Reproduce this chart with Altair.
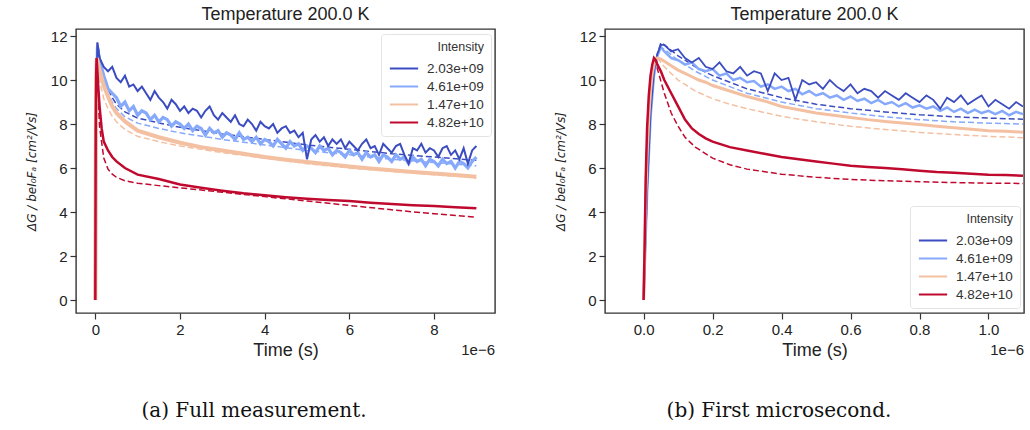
import altair as alt
import pandas as pd

NAMES = ["2.03e+09", "4.61e+09", "1.47e+10", "4.82e+10"]
COLORS = ["#3b4cc0", "#86a9fc", "#f4c0a2", "#c0092e"]
Y_TICKS = [0, 2, 4, 6, 8, 10, 12]

# ---------------- Panel (a): full measurement (time in 1e-6 s) ----------------
L_T_NOISY = [0.0, 0.02, 0.05, 0.1,
             0.2, 0.3, 0.4, 0.5, 0.6, 0.7, 0.8, 0.9, 1.0, 1.1, 1.2, 1.3, 1.4, 1.5, 1.6, 1.7, 1.8, 1.9,
             2.0, 2.1, 2.2, 2.3, 2.4, 2.5, 2.6, 2.7, 2.8, 2.9, 3.0, 3.1, 3.2, 3.3, 3.4, 3.5, 3.6, 3.7, 3.8, 3.9,
             4.0, 4.1, 4.2, 4.3, 4.4, 4.5, 4.6, 4.7, 4.8, 4.9, 5.0, 5.1, 5.2, 5.3, 5.4, 5.5, 5.6, 5.7, 5.8, 5.9,
             6.0, 6.1, 6.2, 6.3, 6.4, 6.5, 6.6, 6.7, 6.8, 6.9, 7.0, 7.1, 7.2, 7.3, 7.4, 7.5, 7.6, 7.7, 7.8, 7.9,
             8.0, 8.1, 8.2, 8.3, 8.4, 8.5, 8.6, 8.7, 8.8, 8.9, 9.0]
L_DARK = [0.0, 8.0, 11.7, 11.0,
          10.6, 10.4, 10.6, 10.1, 9.9, 10.2, 9.7, 9.8, 9.5, 9.7, 9.4, 9.1, 9.5, 9.2, 9.0, 8.7, 9.1, 8.9,
          8.6, 8.8, 8.5, 8.7, 8.6, 8.3, 8.6, 8.8, 8.4, 8.2, 8.5, 8.3, 8.1, 8.4, 8.0, 7.9, 8.2, 8.0, 7.7, 8.1,
          7.9, 7.8, 8.0, 7.6, 7.8, 7.9, 7.6, 7.7, 7.4, 7.6, 6.4, 7.3, 7.5, 7.2, 7.4, 7.0, 7.3, 7.1, 7.3, 6.9,
          7.2, 7.0, 6.8, 7.1, 7.3, 6.9, 7.0, 6.6, 7.1, 6.9, 6.7, 7.0, 7.1, 6.6, 6.2, 6.9, 6.8, 7.1, 6.7, 6.9,
          6.8, 6.5, 6.9, 7.0, 6.6, 6.8, 6.4, 6.9, 6.2, 6.8, 7.0]
L_LIGHT = [0.0, 7.8, 11.5, 10.9,
           10.2, 9.6, 9.4, 9.2, 8.8, 9.0, 8.6, 8.8, 8.4, 8.6, 8.5, 8.2, 8.4, 8.1, 8.3, 8.2, 7.9, 8.1,
           8.0, 7.8, 8.0, 7.7, 7.9, 7.8, 7.5, 7.8, 7.6, 7.7, 7.4, 7.6, 7.5, 7.3, 7.6, 7.3, 7.4, 7.2, 7.4, 7.1,
           7.3, 7.2, 7.0, 7.3, 7.1, 6.9, 7.2, 7.0, 7.1, 6.8, 7.0, 6.9, 6.7, 7.0, 6.8, 6.9, 6.6, 6.8, 6.7, 6.5,
           6.8, 6.6, 6.7, 6.4, 6.7, 6.5, 6.6, 6.3, 6.6, 6.5, 6.3, 6.6, 6.4, 6.5, 6.2, 6.5, 6.3, 6.4, 6.1, 6.4,
           6.3, 6.1, 6.4, 6.2, 6.3, 6.0, 6.3, 6.2, 6.0, 6.3, 6.5]
L_T_SMOOTH = [0.0, 0.01, 0.02, 0.03, 0.04, 0.07, 0.1, 0.15, 0.2, 0.3, 0.4, 0.5, 0.7, 1.0, 1.5,
              2.0, 2.5, 3.0, 3.5, 4.0, 4.5, 5.0, 5.5, 6.0, 6.5, 7.0, 7.5, 8.0, 8.5, 9.0]
L_ORANGE = [0.0, 6.5, 9.5, 10.7, 11.0, 10.7, 10.45, 10.1, 9.75, 9.25, 8.8, 8.5, 8.12, 7.7, 7.4,
            7.15, 6.95, 6.8, 6.65, 6.5, 6.38, 6.27, 6.17, 6.07, 5.98, 5.9, 5.82, 5.75, 5.68, 5.6]
L_RED = [0.0, 7.8, 10.2, 11.0, 10.7, 9.7, 8.8, 7.8, 7.2, 6.8, 6.5, 6.3, 6.0, 5.7, 5.5,
         5.25, 5.1, 4.97, 4.85, 4.76, 4.67, 4.6, 4.55, 4.5, 4.42, 4.36, 4.31, 4.27, 4.22, 4.17]
L_FIT_T = [0.0, 0.01, 0.02, 0.03, 0.04, 0.05, 0.1, 0.2, 0.3, 0.4, 0.5, 0.7, 1.0, 1.5,
           2.0, 3.0, 4.0, 5.0, 6.0, 7.0, 8.0, 9.0]
L_FIT_DARK = [0.0, 5.0, 8.5, 10.4, 11.2, 11.7, 11.1, 10.2, 9.6, 9.2, 8.9, 8.55, 8.27, 8.05,
              7.85, 7.55, 7.3, 7.05, 6.85, 6.65, 6.5, 6.35]
L_FIT_LIGHT = [0.0, 4.8, 8.3, 10.2, 11.1, 11.5, 10.9, 10.0, 9.4, 9.0, 8.7, 8.33, 8.04, 7.8,
               7.6, 7.3, 7.05, 6.8, 6.6, 6.4, 6.25, 6.1]
L_FIT_ORANGE = [0.0, 6.5, 9.5, 10.7, 11.0, 10.8, 10.0, 9.15, 8.7, 8.35, 8.1, 7.75, 7.44, 7.2,
                7.0, 6.7, 6.45, 6.2, 6.0, 5.85, 5.7, 5.55]
L_FIT_RED = [0.0, 7.8, 10.2, 11.0, 10.5, 9.95, 7.9, 6.45, 5.95, 5.72, 5.58, 5.42, 5.31, 5.2,
             5.1, 4.9, 4.7, 4.5, 4.3, 4.1, 3.92, 3.77]

# ---------------- Panel (b): first microsecond ----------------
R_T_NOISY = [0.0, 0.01, 0.02, 0.03, 0.04, 0.05,
             0.06, 0.08, 0.10, 0.12, 0.14, 0.16, 0.18, 0.20, 0.22, 0.24, 0.26, 0.28, 0.30,
             0.32, 0.34, 0.36, 0.38, 0.40, 0.42, 0.44, 0.46, 0.48, 0.50, 0.52, 0.54, 0.56,
             0.58, 0.60, 0.62, 0.64, 0.66, 0.68, 0.70, 0.72, 0.74, 0.76, 0.78, 0.80, 0.82,
             0.84, 0.86, 0.88, 0.90, 0.92, 0.94, 0.96, 0.98, 1.00, 1.02, 1.04, 1.06, 1.08, 1.10]
R_DARK = [0.0, 5.0, 8.5, 10.4, 11.2, 11.6,
          11.6, 11.3, 11.4, 11.0, 10.8, 11.0, 10.6, 10.5, 10.8, 10.4, 10.3, 10.6, 10.2,
          10.4, 10.3, 9.5, 10.3, 10.0, 10.1, 9.1, 10.0, 9.8, 9.9, 9.6, 10.0, 9.7,
          9.5, 9.8, 9.4, 9.6, 9.5, 9.2, 9.5, 9.3, 9.1, 9.4, 9.2, 9.0, 9.3,
          9.1, 8.7, 9.2, 9.0, 9.3, 8.9, 9.1, 9.3, 8.8, 9.1, 8.9, 8.7, 9.0, 8.8]
R_LIGHT = [0.0, 4.8, 8.3, 10.2, 11.1, 11.5,
           11.3, 11.0, 10.9, 10.7, 10.8, 10.5, 10.4, 10.5, 10.2, 10.3, 10.0, 10.1, 9.9,
           9.95, 9.7, 9.8, 9.6, 9.7, 9.5, 9.6, 9.35, 9.5, 9.3, 9.4, 9.2, 9.3,
           9.1, 9.25, 9.05, 9.15, 8.95, 9.1, 8.9, 9.0, 8.8, 8.95, 8.75, 8.85, 8.7,
           8.8, 8.6, 8.75, 8.55, 8.7, 8.5, 8.65, 8.5, 8.6, 8.45, 8.6, 8.4, 8.55, 8.45]
R_T_SMOOTH = [0.0, 0.003, 0.006, 0.01, 0.015, 0.02, 0.025, 0.03, 0.035, 0.04, 0.05, 0.06, 0.08,
              0.1, 0.12, 0.14, 0.16, 0.18, 0.2, 0.25, 0.3, 0.35, 0.4, 0.45, 0.5, 0.55, 0.6,
              0.65, 0.7, 0.75, 0.8, 0.85, 0.9, 0.95, 1.0, 1.05, 1.1]
R_ORANGE = [0.0, 2.0, 4.5, 6.5, 8.3, 9.5, 10.3, 10.7, 10.9, 11.0, 10.95, 10.85, 10.65,
            10.45, 10.3, 10.15, 10.0, 9.9, 9.75, 9.5, 9.25, 9.05, 8.8, 8.65, 8.5, 8.4, 8.3,
            8.2, 8.12, 8.05, 7.98, 7.9, 7.83, 7.76, 7.7, 7.67, 7.63]
R_RED = [0.0, 2.5, 5.5, 7.8, 9.3, 10.2, 10.7, 11.0, 10.9, 10.7, 10.4, 10.0, 9.4,
         8.8, 8.2, 7.8, 7.55, 7.35, 7.2, 6.95, 6.8, 6.65, 6.5, 6.4, 6.3, 6.2, 6.1,
         6.05, 6.0, 5.95, 5.88, 5.82, 5.78, 5.74, 5.7, 5.68, 5.65]
R_FIT_T = [0.0, 0.01, 0.02, 0.03, 0.04, 0.05, 0.06, 0.08, 0.1, 0.12, 0.15, 0.2, 0.25, 0.3,
           0.4, 0.5, 0.6, 0.7, 0.8, 0.9, 1.0, 1.1]
R_FIT_DARK = [0.0, 5.0, 8.5, 10.4, 11.2, 11.7, 11.6, 11.35, 11.1, 10.9, 10.6, 10.2, 9.9, 9.6,
              9.2, 8.9, 8.7, 8.55, 8.42, 8.33, 8.27, 8.22]
R_FIT_LIGHT = [0.0, 4.8, 8.3, 10.2, 11.1, 11.5, 11.4, 11.15, 10.9, 10.7, 10.4, 10.0, 9.7, 9.4,
               9.0, 8.7, 8.5, 8.33, 8.2, 8.1, 8.04, 8.0]
R_FIT_ORANGE = [0.0, 6.5, 9.5, 10.7, 11.0, 10.8, 10.6, 10.3, 10.0, 9.8, 9.5, 9.15, 8.9, 8.7,
                8.35, 8.1, 7.9, 7.75, 7.62, 7.52, 7.44, 7.38]
R_FIT_RED = [0.0, 7.8, 10.2, 11.0, 10.5, 9.95, 9.4, 8.5, 7.9, 7.4, 6.95, 6.45, 6.15, 5.95,
             5.72, 5.58, 5.48, 5.42, 5.38, 5.34, 5.31, 5.3]

TITLE = "Temperature 200.0 K"
X_TITLE = "Time (s)"
Y_TITLE = "ΔG / beI₀Fₐ  [cm²/Vs]"
OFFSET_TXT = "1e−6"
CAPTIONS = ["(a) Full measurement.", "(b) First microsecond."]

W, H = 419, 284


def panel(data, fits, xdom, xvals, xfmt, legend_y, caption, cap_x):
    xs = alt.Scale(domain=xdom, nice=False, zero=False)
    ys = alt.Scale(domain=[-0.59, 12.32], nice=False, zero=False)
    xax = alt.Axis(values=xvals, format=xfmt, title=X_TITLE, titlePadding=4)
    yax = alt.Axis(values=Y_TICKS, title=Y_TITLE, titlePadding=12,
                   titleFont="DejaVu Sans", titleFontSize=12, titleFontStyle="italic")
    color = alt.Color(
        "Intensity:N",
        scale=alt.Scale(domain=NAMES, range=COLORS),
        sort=NAMES,
        legend=alt.Legend(
            title="Intensity", orient="none", legendX=305, legendY=legend_y,
            fillColor="rgba(255,255,255,0.85)", strokeColor="#e3e3e3", padding=7,
            cornerRadius=3, titleFont="Liberation Sans", titleFontSize=12.5,
            titleFontWeight="normal", titleColor="#333", titleAnchor="end",
            labelFont="Liberation Sans", labelFontSize=13.5, labelColor="#333",
            symbolType="M-1.45,0H1.45", symbolSize=380, symbolStrokeWidth=2,
            symbolOffset=5, labelOffset=12, rowPadding=0, titlePadding=4,
        ),
    )
    layers = []
    for t, v, name in fits:
        df = pd.DataFrame({"t": t, "v": v, "Intensity": name})
        layers.append(
            alt.Chart(df).mark_line(strokeWidth=1.5, strokeDash=[6, 3], clip=True).encode(
                x=alt.X("t:Q", scale=xs, axis=xax),
                y=alt.Y("v:Q", scale=ys, axis=yax),
                color=color,
            )
        )
    for t, v, name, w in data:
        df = pd.DataFrame({"t": t, "v": v, "Intensity": name})
        layers.append(
            alt.Chart(df).mark_line(strokeWidth=w, clip=True).encode(
                x=alt.X("t:Q", scale=xs, axis=xax),
                y=alt.Y("v:Q", scale=ys, axis=yax),
                color=color,
            )
        )
    off = alt.Chart(pd.DataFrame({"s": [OFFSET_TXT]})).mark_text(
        align="right", baseline="middle", font="Liberation Sans", fontSize=15, color="#222"
    ).encode(x=alt.value(W), y=alt.value(H + 37), text="s:N")
    cap = alt.Chart(pd.DataFrame({"s": [caption]})).mark_text(
        align="center", baseline="middle", font="DejaVu Serif", fontSize=20, color="#111"
    ).encode(x=alt.value(cap_x), y=alt.value(H + 98), text="s:N")
    layers += [off, cap]
    return alt.layer(*layers).properties(
        width=W, height=H,
        title=alt.Title(TITLE, font="Liberation Sans", fontSize=18, fontWeight="normal",
                        color="#222", offset=5),
    )


left = panel(
    data=[(L_T_NOISY, L_LIGHT, NAMES[1], 3.2), (L_T_NOISY, L_DARK, NAMES[0], 2.0),
          (L_T_SMOOTH, L_ORANGE, NAMES[2], 4.0), (L_T_SMOOTH, L_RED, NAMES[3], 2.5)],
    fits=[(L_FIT_T, L_FIT_DARK, NAMES[0]), (L_FIT_T, L_FIT_LIGHT, NAMES[1]),
          (L_FIT_T, L_FIT_ORANGE, NAMES[2]), (L_FIT_T, L_FIT_RED, NAMES[3])],
    xdom=[-0.456, 9.44], xvals=[0, 2, 4, 6, 8], xfmt="d",
    legend_y=5, caption=CAPTIONS[0], cap_x=178,
)
right = panel(
    data=[(R_T_NOISY, R_LIGHT, NAMES[1], 2.5), (R_T_NOISY, R_DARK, NAMES[0], 1.8),
          (R_T_SMOOTH, R_ORANGE, NAMES[2], 3.0), (R_T_SMOOTH, R_RED, NAMES[3], 2.5)],
    fits=[(R_FIT_T, R_FIT_DARK, NAMES[0]), (R_FIT_T, R_FIT_LIGHT, NAMES[1]),
          (R_FIT_T, R_FIT_ORANGE, NAMES[2]), (R_FIT_T, R_FIT_RED, NAMES[3])],
    xdom=[-0.112, 1.103], xvals=[0.0, 0.2, 0.4, 0.6, 0.8, 1.0], xfmt=".1f",
    legend_y=177, caption=CAPTIONS[1], cap_x=174,
)

chart = alt.hconcat(left, right, spacing=110, bounds="flush").resolve_scale(
    color="independent", x="independent"
).resolve_legend(color="independent").properties(
    padding={"left": 24, "top": 5, "right": 0, "bottom": 0}
).configure_view(
    stroke="#333", strokeWidth=1.4
).configure_axis(
    grid=False, domain=False, tickColor="#333", tickSize=6, tickWidth=1.2,
    labelFont="Liberation Sans", labelFontSize=15, labelColor="#222", labelPadding=3,
    titleFont="Liberation Sans", titleFontSize=18, titleFontWeight="normal", titleColor="#222",
)

chart.save("out.html", embed_options={"renderer": "svg", "actions": False})
